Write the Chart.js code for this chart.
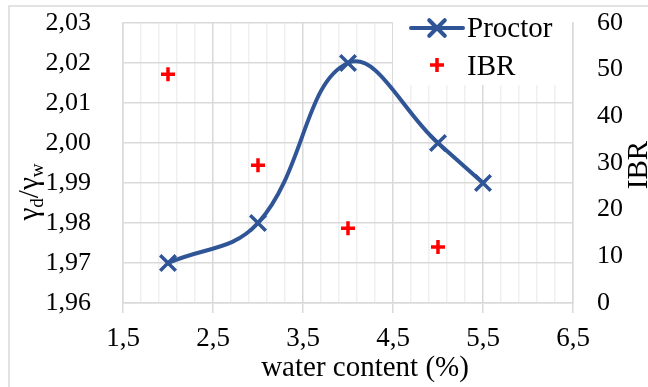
<!DOCTYPE html>
<html>
<head>
<meta charset="utf-8">
<script src="https://cdn.jsdelivr.net/npm/chart.js@4.4.0/dist/chart.umd.min.js"></script>
<style>
  html, body { margin: 0; padding: 0; background: #fff; }
</style>
</head>
<body>
<canvas id="chart" width="648" height="387"></canvas>
<script>
// Proctor (γd/γw) against water content
const waterContent = [2, 3, 4, 5, 5.5];
const proctorValues = [1.97, 1.98, 2.02, 2.00, 1.99];
// IBR points (right axis)
const ibrWater = [2, 3, 4, 5];
const ibrValues = [49, 29.5, 16, 12];
// axis ticks
const xMajorTicks = [1.5, 2.5, 3.5, 4.5, 5.5, 6.5];
const xMinorStep = 0.2;
const yLeftTicks = [1.96, 1.97, 1.98, 1.99, 2.00, 2.01, 2.02, 2.03];
const yRightTicks = [0, 10, 20, 30, 40, 50, 60];

const serif = "'Liberation Serif', 'Times New Roman', serif";
const blue = '#2f5597';
const red = '#ff0000';
const gridMajor = '#d9d9d9';
const gridMinor = '#f0f0f0';

function isMajor(v) {
    return xMajorTicks.some(t => Math.abs(t - v) < 1e-6);
}
function comma(v, d) {
    return v.toFixed(d).replace('.', ',');
}

const proctorData = waterContent.map((x, i) => ({ x: x, y: proctorValues[i] }));
const ibrData = ibrWater.map((x, i) => ({ x: x, y: ibrValues[i] }));

// fond blanc + cadre gris
const framePlugin = {
    id: 'frame',
    beforeDraw(chart) {
        const ctx = chart.ctx;
        ctx.save();
        ctx.fillStyle = '#fff';
        ctx.fillRect(0, 0, chart.width, chart.height);
        ctx.strokeStyle = gridMajor;
        ctx.lineWidth = 1.5;
        ctx.strokeRect(9, 6, 900, 600);
        ctx.restore();
    }
};

// legend box sits over the plot, hides the grid behind it
const legendPlugin = {
    id: 'boxLegend',
    beforeDatasetsDraw(chart) {
        const ctx = chart.ctx;
        ctx.save();
        ctx.fillStyle = '#fff';
        ctx.fillRect(393, 7, 179, 78);
        ctx.restore();
    },
    afterDraw(chart) {
        const ctx = chart.ctx;
        const ds = chart.data.datasets;
        ctx.save();
        ctx.font = '29px ' + serif;
        ctx.fillStyle = '#000';
        ctx.textBaseline = 'middle';
        ctx.textAlign = 'left';
        // Proctor
        ctx.strokeStyle = blue;
        ctx.lineWidth = 4;
        ctx.lineCap = 'round';
        ctx.beginPath();
        ctx.moveTo(411, 28);
        ctx.lineTo(463, 28);
        ctx.stroke();
        Chart.helpers.drawPoint(ctx, { pointStyle: 'crossRot', radius: 11, rotation: 0, borderWidth: 3.5 }, 437, 28);
        ctx.fillText(ds[0].label, 467, 29);
        // IBR
        ctx.strokeStyle = red;
        ctx.lineWidth = 3.5;
        ctx.lineCap = 'butt';
        Chart.helpers.drawPoint(ctx, { pointStyle: 'cross', radius: 7, rotation: 0, borderWidth: 3.5 }, 437, 65);
        ctx.fillText(ds[1].label, 467, 67);
        ctx.restore();
    }
};

// axis titles (γd/γw needs subscripts)
const titlePlugin = {
    id: 'axisTitles',
    afterDraw(chart) {
        const ctx = chart.ctx;
        ctx.save();
        ctx.fillStyle = '#000';
        ctx.textBaseline = 'alphabetic';

        // x title
        ctx.font = '29px ' + serif;
        ctx.textAlign = 'center';
        ctx.fillText('water content (%)', 365, 376);

        // right title
        ctx.save();
        ctx.translate(647, 165);
        ctx.rotate(-Math.PI / 2);
        ctx.textAlign = 'center';
        ctx.fillText('IBR', 0, 0);
        ctx.restore();

        // left title γd/γw
        const parts = [
            { t: 'γ', size: 29, dy: 0 },
            { t: 'd', size: 19, dy: 5 },
            { t: '/', size: 29, dy: 0 },
            { t: 'γ', size: 29, dy: 0 },
            { t: 'w', size: 19, dy: 5 }
        ];
        let total = 0;
        parts.forEach(p => {
            ctx.font = p.size + 'px ' + serif;
            p.w = ctx.measureText(p.t).width;
            total += p.w;
        });
        ctx.translate(38, 192);
        ctx.rotate(-Math.PI / 2);
        ctx.textAlign = 'left';
        let px = -total / 2;
        parts.forEach(p => {
            ctx.font = p.size + 'px ' + serif;
            ctx.fillText(p.t, px, p.dy);
            px += p.w;
        });
        ctx.restore();
    }
};

const ctxMain = document.getElementById('chart').getContext('2d');
const chart = new Chart(ctxMain, {
    type: 'scatter',
    data: {
        datasets: [
            {
                label: 'Proctor',
                data: proctorData,
                yAxisID: 'y',
                showLine: true,
                borderColor: blue,
                backgroundColor: blue,
                borderWidth: 4,
                tension: 0.4,
                pointStyle: 'crossRot',
                pointRadius: 11,
                pointBorderWidth: 3.5,
                pointHoverRadius: 11,
                clip: false
            },
            {
                label: 'IBR',
                data: ibrData,
                yAxisID: 'y2',
                showLine: false,
                borderColor: red,
                backgroundColor: red,
                pointStyle: 'cross',
                pointRadius: 7,
                pointBorderWidth: 3.5,
                pointHoverRadius: 7,
                clip: false
            }
        ]
    },
    options: {
        responsive: false,
        animation: false,
        layout: { padding: { top: 23, left: 0, right: 0, bottom: 0 } },
        plugins: {
            legend: { display: false },
            tooltip: { enabled: false }
        },
        scales: {
            x: {
                type: 'linear',
                position: 'bottom',
                min: 1.5,
                max: 6.5,
                afterBuildTicks(scale) {
                    const ticks = [];
                    const n = Math.round((xMajorTicks[xMajorTicks.length - 1] - xMajorTicks[0]) / xMinorStep);
                    for (let i = 0; i <= n; i++) {
                        ticks.push({ value: +(xMajorTicks[0] + i * xMinorStep).toFixed(2) });
                    }
                    scale.ticks = ticks;
                },
                afterFit(scale) { scale.height = 84; },
                grid: {
                    color: c => isMajor(c.tick.value) ? gridMajor : gridMinor,
                    tickColor: c => isMajor(c.tick.value) ? gridMajor : 'rgba(0,0,0,0)',
                    lineWidth: 1.5,
                    tickLength: 10
                },
                border: { color: gridMajor, width: 1.5 },
                ticks: {
                    autoSkip: false,
                    maxRotation: 0,
                    padding: 10,
                    color: '#000',
                    font: { family: serif, size: 27 },
                    callback: v => isMajor(v) ? comma(v, 1) : ''
                }
            },
            y: {
                position: 'left',
                min: yLeftTicks[0],
                max: yLeftTicks[yLeftTicks.length - 1],
                afterBuildTicks(scale) {
                    scale.ticks = yLeftTicks.map(v => ({ value: v }));
                },
                afterFit(scale) {
                    scale.width = 123;
                    scale.paddingTop = 0;
                    scale.paddingBottom = 0;
                },
                grid: {
                    color: gridMajor,
                    lineWidth: 1.5,
                    drawTicks: false
                },
                border: { color: gridMajor, width: 1.5 },
                ticks: {
                    padding: 32,
                    color: '#000',
                    font: { family: serif, size: 26 },
                    callback: v => comma(v, 2)
                }
            },
            y2: {
                position: 'right',
                min: yRightTicks[0],
                max: yRightTicks[yRightTicks.length - 1],
                afterBuildTicks(scale) {
                    scale.ticks = yRightTicks.map(v => ({ value: v }));
                },
                afterFit(scale) {
                    scale.width = 75;
                    scale.paddingTop = 0;
                    scale.paddingBottom = 0;
                },
                grid: { display: false, drawTicks: false },
                border: { color: gridMajor, width: 1.5 },
                ticks: {
                    padding: 24,
                    color: '#000',
                    font: { family: serif, size: 26 },
                    callback: v => String(v)
                }
            }
        }
    },
    plugins: [framePlugin, legendPlugin, titlePlugin]
});
</script>
</body>
</html>
